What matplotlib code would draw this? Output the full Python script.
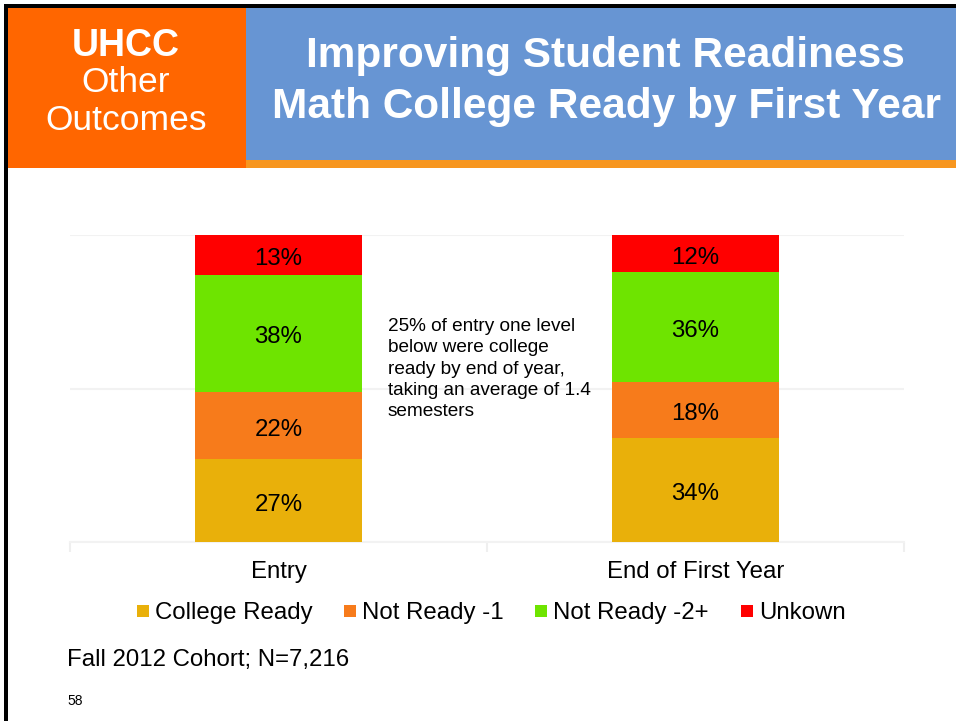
import matplotlib
matplotlib.use("Agg")
import matplotlib.pyplot as plt
from matplotlib.patches import Rectangle
import numpy as np

plt.rcParams['font.family'] = ['Liberation Sans', 'DejaVu Sans']

# ---- data ----
categories = ["Entry", "End of First Year"]
series_names = ["College Ready", "Not Ready -1", "Not Ready -2+", "Unkown"]
college_ready = [27, 34]
not_ready_1 = [22, 18]
not_ready_2 = [38, 36]
unknown = [13, 12]
series_values = [college_ready, not_ready_1, not_ready_2, unknown]
colors = ["#E9B00A", "#F77B1B", "#6EE400", "#FF0000"]

W, H = 956, 721
fig = plt.figure(figsize=(W / 100, H / 100), dpi=100)
fig.patch.set_facecolor("white")

def px_rect(x0, y0, x1, y1, color, z=0):
    fig.patches.append(Rectangle((x0 / W, 1 - y1 / H), (x1 - x0) / W, (y1 - y0) / H,
                                 transform=fig.transFigure, facecolor=color,
                                 edgecolor="none", zorder=z))

def ftext(x, y, s, **kw):
    fig.text(x / W, 1 - y / H, s, **kw)

# header
px_rect(246, 7, W, 161, "#6795D3")
px_rect(246, 160, W, 168, "#F7961F")
px_rect(8, 7, 246, 168, "#FF6600")
# borders
px_rect(4, 4, W, 8, "black", 5)
px_rect(4, 4, 8, H, "black", 5)

ftext(126, 46, "UHCC", color="white", fontsize=27, fontweight="bold", ha="center", va="center")
ftext(126, 83, "Other", color="white", fontsize=25.5, ha="center", va="center")
ftext(126, 120, "Outcomes", color="white", fontsize=25.5, ha="center", va="center")
ftext(605, 56, "Improving Student Readiness", color="white", fontsize=30.5,
      fontweight="bold", ha="center", va="center")
ftext(606, 107, "Math College Ready by First Year", color="white", fontsize=30.5,
      fontweight="bold", ha="center", va="center")

# ---- chart ----
ax = fig.add_axes([70 / W, 1 - 542 / H, 834 / W, 307 / H])
x = np.arange(len(categories))
totals = np.sum(series_values, axis=0)
bottom = np.zeros(len(categories))
for name, vals, c in zip(series_names, series_values, colors):
    frac = np.array(vals) / totals
    ax.bar(x, frac, 0.4, bottom=bottom, color=c, label=name, zorder=3)
    for xi, b, f, v in zip(x, bottom, frac, vals):
        ax.annotate(f"{v}%", (xi, b + f / 2), xytext=(0, -3), textcoords="offset points",
                    ha="center", va="center", fontsize=17.3, color="black", zorder=4)
    bottom += frac

ax.set_xlim(-0.5, 1.5)
ax.set_ylim(0, 1)
ax.set_yticks([0, 0.5, 1])
ax.yaxis.grid(True, color="#F2F2F2", linewidth=1.5, zorder=0)
ax.tick_params(axis="y", left=False, labelleft=False)
ax.set_xticks([-0.5, 0.5, 1.5])
ax.set_xticklabels([])
ax.set_xticks(x, minor=True)
ax.set_xticklabels(categories, minor=True, fontsize=17.3)
ax.tick_params(axis="x", which="major", length=7, color="#EFEFEF", width=1.5, direction="out")
ax.tick_params(axis="x", which="minor", length=0, pad=14)
for s in ["top", "right", "left"]:
    ax.spines[s].set_visible(False)
ax.spines["bottom"].set_color("#F2F2F2")
ax.spines["bottom"].set_linewidth(1.5)
ax.set_facecolor("white")

ax.text((388 - 70) / 834 * 2 - 0.5, (542 - 318) / 307,
        "25% of entry one level\nbelow were college\nready by end of year,\ntaking an average of 1.4\nsemesters",
        fontsize=13.7, ha="left", va="top", linespacing=1.33, color="black")

# legend (manual, to keep row alignment)
legend_square_x = [137, 344, 535, 741]
for sx, name, c in zip(legend_square_x, series_names, colors):
    px_rect(sx, 605, sx + 12, 617, c, 3)
    ftext(sx + 18, 619, name, fontsize=17.3, ha="left", va="baseline")

ftext(67, 666, "Fall 2012 Cohort; N=7,216", fontsize=17.3, ha="left", va="baseline")
ftext(67, 705, "58", fontsize=10, ha="left", va="baseline")

fig.savefig("out.png", dpi=100, facecolor="white")
